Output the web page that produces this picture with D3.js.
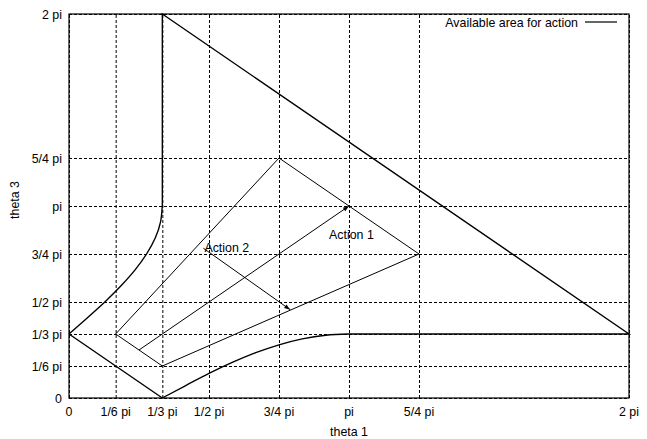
<!DOCTYPE html>
<html>
<head>
<meta charset="utf-8">
<script src="https://cdn.jsdelivr.net/npm/d3@7"></script>
<style>
  html, body { margin: 0; padding: 0; background: #fff; overflow: hidden; }
  svg { display: block; }
  svg text { font-family: "Liberation Sans", Arial, sans-serif; font-size: 12.4px; fill: #000; }
</style>
</head>
<body>
<div id="chart"></div>
<script>
// all values in units of pi
const xTicks = [0, 1 / 6, 1 / 3, 1 / 2, 3 / 4, 1, 5 / 4, 2];
const xTickLabels = ['0', '1/6 pi', '1/3 pi', '1/2 pi', '3/4 pi', 'pi', '5/4 pi', '2 pi'];
const yTicks = [0, 1 / 6, 1 / 3, 1 / 2, 3 / 4, 1, 5 / 4, 2];
const yTickLabels = ['0', '1/6 pi', '1/3 pi', '1/2 pi', '3/4 pi', 'pi', '5/4 pi', '2 pi'];

// available area boundary
const lowerCurve = [
  [0.333, 0], [0.417, 0.065], [0.5, 0.128], [0.583, 0.185], [0.667, 0.236],
  [0.75, 0.277], [0.833, 0.308], [0.917, 0.327], [1, 0.333]
];
// mirrored left curve (x, y)
const leftCurve = [
  [0, 0.333], [0.065, 0.417], [0.128, 0.5], [0.185, 0.583], [0.236, 0.667],
  [0.277, 0.75], [0.308, 0.833], [0.327, 0.917], [0.333, 1]
];
const upperEdge = [[1 / 3, 1], [1 / 3, 2], [2, 1 / 3], [1, 1 / 3]];
const cornerEdge = [[1 / 3, 0], [0, 1 / 3]];

// action region
const actionRegion = [[1 / 6, 1 / 3], [3 / 4, 5 / 4], [5 / 4, 3 / 4], [1 / 3, 1 / 6], [1 / 6, 1 / 3]];
const action1 = [[0.25, 0.25], [1, 1]];
const action2 = [[0.48, 0.78], [0.79, 0.46]];
const legendLabel = 'Available area for action';

const width = 647, height = 439;
const margin = { top: 14, right: 18, bottom: 41, left: 69 };
const innerWidth = width - margin.left - margin.right;
const innerHeight = height - margin.top - margin.bottom;

const svg = d3.select('#chart').append('svg')
  .attr('width', width)
  .attr('height', height);

svg.append('defs').append('marker')
  .attr('id', 'head')
  .attr('viewBox', '0 0 10 10')
  .attr('refX', 10).attr('refY', 5)
  .attr('markerWidth', 8).attr('markerHeight', 6)
  .attr('markerUnits', 'userSpaceOnUse')
  .attr('orient', 'auto')
  .append('path')
  .attr('d', 'M0,1.5L10,5L0,8.5z')
  .attr('fill', '#000');

const x = d3.scaleLinear().domain([0, 2]).range([0, innerWidth]);
const y = d3.scaleLinear().domain([0, 2]).range([innerHeight, 0]);

const g = svg.append('g')
  .attr('transform', `translate(${margin.left},${margin.top})`);

// grid from the axes
const xAxis = g.append('g')
  .attr('transform', `translate(0,${innerHeight})`)
  .call(d3.axisBottom(x).tickValues(xTicks).tickSize(-innerHeight));

const yAxis = g.append('g')
  .call(d3.axisLeft(y).tickValues(yTicks).tickSize(-innerWidth));

[xAxis, yAxis].forEach(a => {
  a.select('.domain').remove();
  a.selectAll('.tick text').remove();
  a.selectAll('.tick line')
    .attr('stroke', '#000')
    .attr('stroke-width', 1)
    .attr('stroke-dasharray', '3,2');
});

// tick labels
svg.selectAll('.xlab')
  .data(xTicks)
  .join('text')
  .attr('class', 'xlab')
  .attr('x', d => margin.left + x(d))
  .attr('y', margin.top + innerHeight + 18)
  .attr('text-anchor', 'middle')
  .text((d, i) => xTickLabels[i]);

svg.selectAll('.ylab')
  .data(yTicks)
  .join('text')
  .attr('class', 'ylab')
  .attr('x', margin.left - 7)
  .attr('y', d => margin.top + y(d) + 4.5)
  .attr('text-anchor', 'end')
  .text((d, i) => yTickLabels[i]);

g.append('rect')
  .attr('width', innerWidth)
  .attr('height', innerHeight)
  .attr('fill', 'none')
  .attr('stroke', '#000')
  .attr('stroke-width', 1.2);

const line = d3.line().x(d => x(d[0])).y(d => y(d[1]));

// available area
g.append('path')
  .attr('d', line.curve(d3.curveMonotoneX)(lowerCurve))
  .attr('fill', 'none').attr('stroke', '#000').attr('stroke-width', 1.4);
g.append('path')
  .attr('d', line.curve(d3.curveMonotoneY)(leftCurve))
  .attr('fill', 'none').attr('stroke', '#000').attr('stroke-width', 1.4);
line.curve(d3.curveLinear);
[upperEdge, cornerEdge].forEach(pts => {
  g.append('path')
    .attr('d', line(pts))
    .attr('fill', 'none').attr('stroke', '#000').attr('stroke-width', 1.4);
});

// action region
g.append('path')
  .attr('d', line(actionRegion))
  .attr('fill', 'none').attr('stroke', '#000').attr('stroke-width', 1);

[action1, action2].forEach(pts => {
  g.append('path')
    .attr('d', line(pts))
    .attr('fill', 'none').attr('stroke', '#000').attr('stroke-width', 1)
    .attr('marker-end', 'url(#head)');
});

svg.append('text')
  .attr('x', margin.left + x(action2[0][0]) + 1)
  .attr('y', margin.top + y(action2[0][1]) + 4)
  .text('Action 2');
svg.append('text')
  .attr('x', 329)
  .attr('y', 238.5)
  .text('Action 1');

// legend
svg.append('text')
  .attr('x', 578)
  .attr('y', 26.5)
  .attr('text-anchor', 'end')
  .text(legendLabel);
g.append('line')
  .attr('x1', 516).attr('x2', 548)
  .attr('y1', 8).attr('y2', 8)
  .attr('stroke', '#000').attr('stroke-width', 1.2);

// axis titles
svg.append('text')
  .attr('x', margin.left + x(1))
  .attr('y', 436)
  .attr('text-anchor', 'middle')
  .text('theta 1');
svg.append('text')
  .attr('transform', 'translate(19,200) rotate(-90)')
  .attr('text-anchor', 'middle')
  .text('theta 3');
</script>
</body>
</html>
